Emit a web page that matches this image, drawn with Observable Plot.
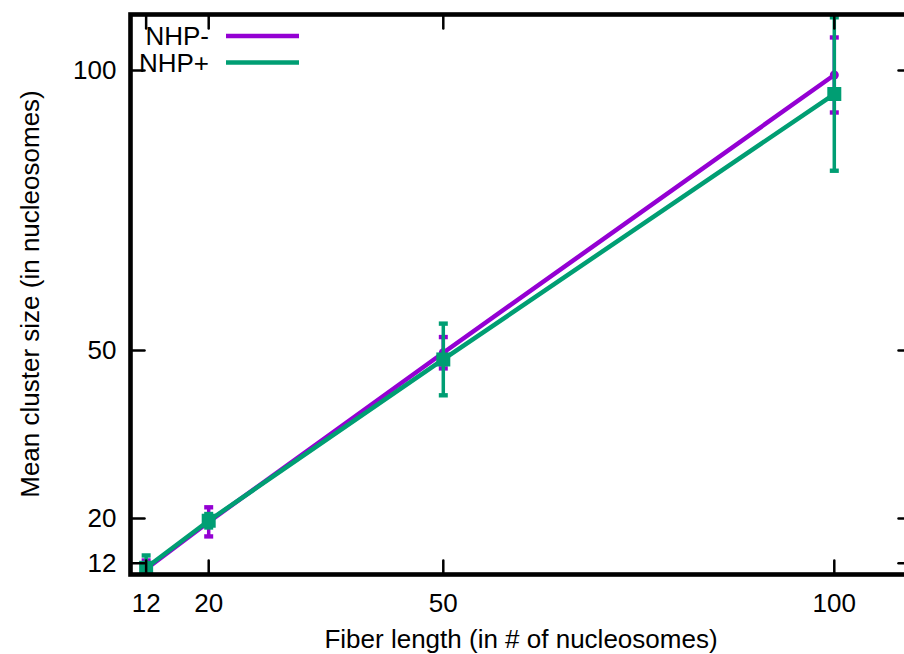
<!DOCTYPE html>
<html>
<head>
<meta charset="utf-8">
<script src="https://cdn.jsdelivr.net/npm/d3@7"></script>
<script src="https://cdn.jsdelivr.net/npm/@observablehq/plot@0.6"></script>
<style>
  html, body { margin: 0; padding: 0; background: white; overflow: hidden; }
  #chart svg { display: block; }
</style>
</head>
<body>
<div id="chart"></div>
<script>
// ---- data ----
const fiberLength = [12, 20, 50, 100];
const nhpMinusMean = [11.0, 19.4, 49.6, 99.2];
const nhpMinusErr  = [1.5, 2.6, 2.8, 6.7];
const nhpPlusMean  = [11.2, 19.6, 48.4, 95.8];
const nhpPlusErr   = [2.2, 1.2, 6.4, 13.7];
const xTicks = [12, 20, 50, 100];
const yTicks = [12, 20, 50, 100];
const seriesNames = ["NHP-", "NHP+"];
const seriesColors = ["#9400d3", "#009e73"];

const minus = fiberLength.map((x, i) => ({x, y: nhpMinusMean[i], e: nhpMinusErr[i]}));
const plus  = fiberLength.map((x, i) => ({x, y: nhpPlusMean[i], e: nhpPlusErr[i]}));

const FONT = "'Liberation Sans', Arial, Helvetica, sans-serif";
const capSymbol = {draw(ctx, size) { ctx.rect(-4.5, -2.2, 9, 4.4); }};
const squareSymbol = {draw(ctx, size) { ctx.rect(-7, -7, 14, 14); }};
const tickLenX = 14, tickLenY = 14;

const tickShapeUp = {draw(ctx, l) { ctx.moveTo(0, 0); ctx.lineTo(0, -l); }};

function seriesMarks(data, color, pointMark) {
  return [
    Plot.line(data, {x: "x", y: "y", stroke: color, strokeWidth: 4.5, clip: true}),
    Plot.ruleX(data, {x: "x", y1: d => d.y - d.e, y2: d => d.y + d.e, stroke: color, strokeWidth: 3.5, clip: true}),
    Plot.dot(data, {x: "x", y: d => d.y + d.e, symbol: capSymbol, fill: color, stroke: null, clip: true}),
    Plot.dot(data, {x: "x", y: d => d.y - d.e, symbol: capSymbol, fill: color, stroke: null, clip: true}),
    pointMark
  ];
}

const chart = Plot.plot({
  width: 904,
  height: 654,
  marginLeft: 130,
  marginTop: 14,
  marginBottom: 80,
  marginRight: -8,
  style: {fontFamily: FONT, fontSize: "26px", color: "black", background: "white", overflow: "hidden"},
  x: {domain: [10, 110]},
  y: {domain: [10, 110]},
  marks: [
    ...seriesMarks(minus, seriesColors[0],
      Plot.dot(minus, {x: "x", y: "y", r: 4.5, fill: seriesColors[0], stroke: null, clip: true})),
    ...seriesMarks(plus, seriesColors[1],
      Plot.dot(plus, {x: "x", y: "y", symbol: squareSymbol, fill: seriesColors[1], stroke: null, clip: true})),
    // tick labels
    Plot.axisX({ticks: xTicks, tickSize: 0, tickPadding: 19, fontSize: 26, label: null, tickFormat: d => String(d)}),
    Plot.axisY({ticks: yTicks, tickSize: 0, tickPadding: 14, fontSize: 26, label: null, tickFormat: d => String(d)}),
    // inward ticks (bottom/top)
    Plot.vector(xTicks, {x: d => d, frameAnchor: "bottom", length: tickLenX, anchor: "start", rotate: 0, shape: tickShapeUp, stroke: "black", strokeWidth: 2.5}),
    Plot.vector(xTicks, {x: d => d, frameAnchor: "top", length: tickLenX, anchor: "start", rotate: 180, shape: tickShapeUp, stroke: "black", strokeWidth: 2.5}),
    // inward ticks (left/right)
    Plot.vector(yTicks, {y: d => d, frameAnchor: "left", length: tickLenY, anchor: "start", rotate: 90, shape: tickShapeUp, stroke: "black", strokeWidth: 2.5}),
    Plot.vector(yTicks, {y: d => d, frameAnchor: "right", length: tickLenY, anchor: "start", rotate: -90, shape: tickShapeUp, stroke: "black", strokeWidth: 2.5}),
    Plot.frame({stroke: "black", strokeWidth: 4.6})
  ]
});

document.getElementById("chart").appendChild(chart);

// axis titles and legend
const svg = d3.select(chart);
svg.append("text")
  .attr("x", 521).attr("y", 648)
  .attr("text-anchor", "middle")
  .attr("font-family", FONT).attr("font-size", 26).attr("fill", "black")
  .text("Fiber length (in # of nucleosomes)");
svg.append("text")
  .attr("transform", "translate(39,294) rotate(-90)")
  .attr("text-anchor", "middle")
  .attr("font-family", FONT).attr("font-size", 26).attr("fill", "black")
  .text("Mean cluster size (in nucleosomes)");

const legend = svg.append("g");
seriesNames.forEach((name, i) => {
  const cy = 36 + i * 26.5;
  legend.append("text")
    .attr("x", 209).attr("y", cy + 9)
    .attr("text-anchor", "end")
    .attr("font-family", FONT).attr("font-size", 26).attr("fill", "black")
    .text(name);
  legend.append("line")
    .attr("x1", 226).attr("x2", 299).attr("y1", cy).attr("y2", cy)
    .attr("stroke", seriesColors[i]).attr("stroke-width", 4.5);
});
</script>
</body>
</html>
